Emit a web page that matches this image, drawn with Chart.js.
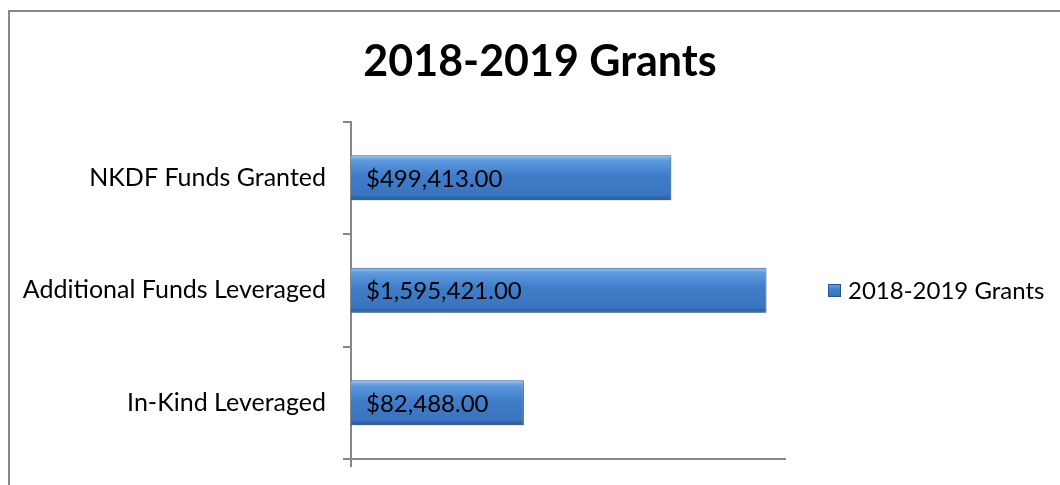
<!DOCTYPE html>
<html lang="en">
<head>
<meta charset="UTF-8">
<title>2018-2019 Grants</title>
<script src="https://cdn.jsdelivr.net/npm/chart.js@4.4.1/dist/chart.umd.min.js"></script>
<style>
  html, body { margin: 0; padding: 0; background: #fff; overflow: hidden; }
  #frame { position: absolute; left: 8px; top: 10px; width: 1100px; height: 520px;
           border-left: 2px solid #878787; border-top: 2px solid #878787; }
  #wrap { position: absolute; left: 0; top: 0; width: 1060px; height: 485px; }
</style>
</head>
<body>
<div id="frame"></div>
<div id="wrap"><canvas id="cChart" width="1060" height="485"></canvas></div>
<script>
const chartTitle = '2018-2019 Grants';
const seriesName = '2018-2019 Grants';
const categories = ['NKDF Funds Granted', 'Additional Funds Leveraged', 'In-Kind Leveraged'];
const grants = [499413, 1595421, 82488];
const axisMin = 10000, axisMax = 2000000;

const FONT = 'Lato';
const GRAY = '#878787';
const BLUE = '#3d7bc8';

function bevel(ctx, top, h) {
  const g = ctx.createLinearGradient(0, top, 0, top + h);
  g.addColorStop(0, '#93c2f2');
  g.addColorStop(0.12, '#5c99de');
  g.addColorStop(0.45, '#3f7dca');
  g.addColorStop(0.88, '#3a74c0');
  g.addColorStop(1, '#27568f');
  return g;
}

// gradient per bar, positioned from the y scale
function barFill(c) {
  const chart = c.chart, y = chart.scales.y;
  if (!y || c.dataIndex === undefined) return BLUE;
  const center = y.getPixelForValue(c.dataIndex);
  const h = (y.height / categories.length) * 0.4;
  if (!isFinite(center) || !isFinite(h) || h <= 0) return BLUE;
  return bevel(chart.ctx, center - h / 2, h);
}

const barShadow = {
  id: 'barShadow',
  beforeDatasetsDraw(chart) {
    const ctx = chart.ctx;
    ctx.save();
    ctx.shadowColor = 'rgba(0,0,0,0.3)';
    ctx.shadowBlur = 5;
    ctx.shadowOffsetY = 3;
  },
  afterDatasetsDraw(chart) {
    chart.ctx.restore();
  }
};

const valueLabels = {
  id: 'valueLabels',
  afterDatasetsDraw(chart) {
    const ctx = chart.ctx;
    ctx.save();
    ctx.font = '24px ' + FONT;
    ctx.fillStyle = '#000';
    ctx.textBaseline = 'middle';
    chart.getDatasetMeta(0).data.forEach((bar, i) => {
      const txt = '$' + grants[i].toLocaleString('en-US', {minimumFractionDigits: 2, maximumFractionDigits: 2});
      ctx.fillText(txt, bar.base + 15, bar.y + 1);
    });
    ctx.restore();
  }
};

// legend to the right of the plot, vertically centred on it
const sideLegend = {
  id: 'sideLegend',
  afterDraw(chart) {
    const ctx = chart.ctx, a = chart.chartArea;
    const x = a.right + 43, y = Math.round((a.top + a.bottom) / 2);
    ctx.save();
    ctx.fillStyle = bevel(ctx, y - 6, 13);
    ctx.fillRect(x, y - 6, 13, 13);
    ctx.strokeStyle = '#27568f';
    ctx.lineWidth = 1;
    ctx.strokeRect(x + 0.5, y - 5.5, 12, 12);
    ctx.font = '24px ' + FONT;
    ctx.fillStyle = '#000';
    ctx.textBaseline = 'middle';
    ctx.fillText(seriesName, x + 20, y + 1);
    ctx.restore();
  }
};

const data = {
  labels: categories,
  datasets: [{
    label: seriesName,
    data: grants,
    xAxisID: 'x',
    yAxisID: 'y',
    backgroundColor: barFill,
    borderColor: '#2b5c9c',
    borderWidth: 1,
    categoryPercentage: 1,
    barPercentage: 0.4
  }]
};

const config = {
  type: 'bar',
  data: data,
  plugins: [barShadow, valueLabels, sideLegend],
  options: {
    indexAxis: 'y',
    responsive: false,
    animation: false,
    events: [],
    layout: { padding: { left: 22, right: 2, top: 0, bottom: 18 } },
    plugins: {
      tooltip: { enabled: false },
      legend: { display: false },
      title: {
        display: true,
        text: chartTitle,
        color: '#000',
        font: { family: FONT, size: 43, weight: 'bold' },
        padding: { top: 36, bottom: 34 }
      }
    },
    scales: {
      x: {
        type: 'logarithmic',
        min: axisMin,
        max: axisMax,
        ticks: { display: false },
        grid: {
          drawOnChartArea: false,
          tickLength: 8,
          lineWidth: 2,
          color: c => c.index === 0 ? GRAY : 'rgba(0,0,0,0)'
        },
        border: { color: GRAY, width: 2 }
      },
      y: {
        type: 'category',
        offset: true,
        grid: { offset: true, drawOnChartArea: false, tickLength: 8, lineWidth: 2, color: GRAY },
        border: { color: GRAY, width: 2 },
        ticks: { color: '#000', font: { family: FONT, size: 25 }, padding: 17 },
        afterFit: s => { s.width = 329; s.paddingTop = 0; s.paddingBottom = 0; }
      },
      // empty right-hand axis: keeps room for the legend
      room: {
        axis: 'y',
        type: 'linear',
        position: 'right',
        min: 0,
        max: 1,
        grid: { display: false },
        border: { display: false },
        ticks: { display: false },
        afterFit: s => { s.width = 273; s.paddingTop = 0; s.paddingBottom = 0; }
      }
    }
  }
};

const cChart = new Chart(document.getElementById('cChart'), config);
</script>
</body>
</html>
